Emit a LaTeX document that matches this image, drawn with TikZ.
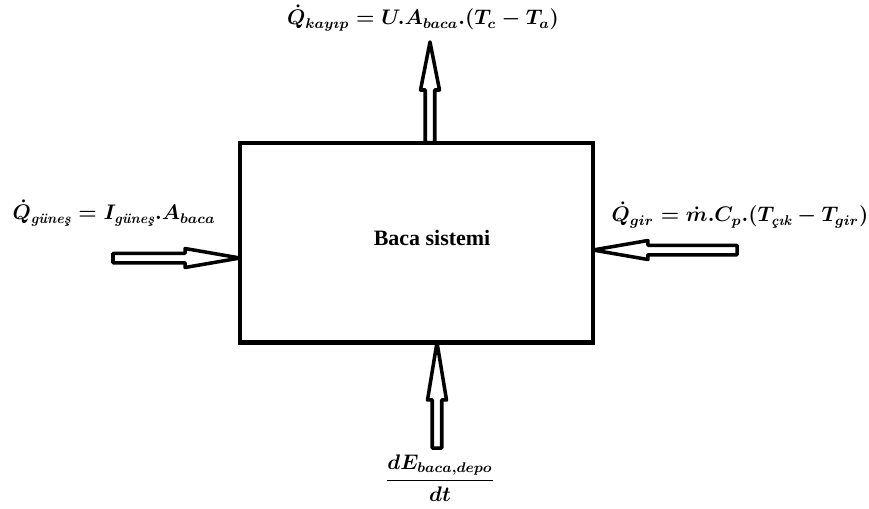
\documentclass[tikz,border=0pt]{standalone}
\usepackage{amsmath,fontspec}
\usetikzlibrary{calc,positioning}
\newfontfamily\tnr{Liberation Serif}
\tikzset{
  sysbox/.style={draw,rectangle,line width=2.3pt,minimum width=7.06cm,minimum height=4cm,outer sep=0pt},
  syslbl/.style={font=\tnr\bfseries\fontsize{12.5}{14}\selectfont},
  eqn/.style={font=\bfseries\boldmath\fontsize{11.5}{14}\selectfont,inner sep=1pt},
  blockarr/.style={draw,line width=2pt,line join=round,
    to path={let \p1=(\tikztostart), \p2=(\tikztotarget), \p3=($(\p2)!#1!(\p1)$) in
      ($(\p1)!0.095cm!90:(\p2)$) -- ($(\p3)!0.095cm!90:(\p2)$) -- ($(\p3)!0.19cm!90:(\p2)$)
      -- (\p2) -- ($(\p3)!0.19cm!-90:(\p2)$) -- ($(\p3)!0.095cm!-90:(\p2)$)
      -- ($(\p1)!0.095cm!-90:(\p2)$) -- cycle}},
  blockarr/.default=1.1cm
}
\begin{document}
\begin{tikzpicture}[x=0.02cm,y=-0.02cm]
  \useasboundingbox (0,0) rectangle (869,508);
  % System box
  \node[sysbox] (box) at (416.5,242.5) {};
  \node[syslbl] (boxlbl) at (432,238) {Baca sistemi};

  % Heat balance terms
  \node[eqn] (qloss) at (423,18) {$\dot{Q}_{kay\imath p} = U.A_{baca}.(T_c - T_a)$};
  \node[eqn] (qsun) at (114,213) {$\dot{Q}_{\text{\itshape güneş}} = I_{\text{\itshape güneş}}.A_{baca}$};
  \node[eqn] (qgir) at (740,215) {$\dot{Q}_{gir} = \dot{m}.C_p.(T_{\text{\itshape çık}} - T_{gir})$};
  \node[eqn] (dedt) at (440,478) {$\dfrac{dE_{baca,depo}}{dt}$};

  % Arrow ends
  \coordinate (sunend) at (113,258);
  \coordinate (girend) at (737,250);
  \coordinate (lossend) at (430,42);
  \coordinate (depoend) at (437,448);

  % Flows
  \draw[blockarr] (sunend) to (box.west |- sunend);
  \draw[blockarr] (girend) to (box.east |- girend);
  \draw[blockarr=0.96cm] (box.north -| lossend) to (lossend);
  \draw[blockarr=1.15cm] (depoend) to (box.south -| depoend);
\end{tikzpicture}
\end{document}
